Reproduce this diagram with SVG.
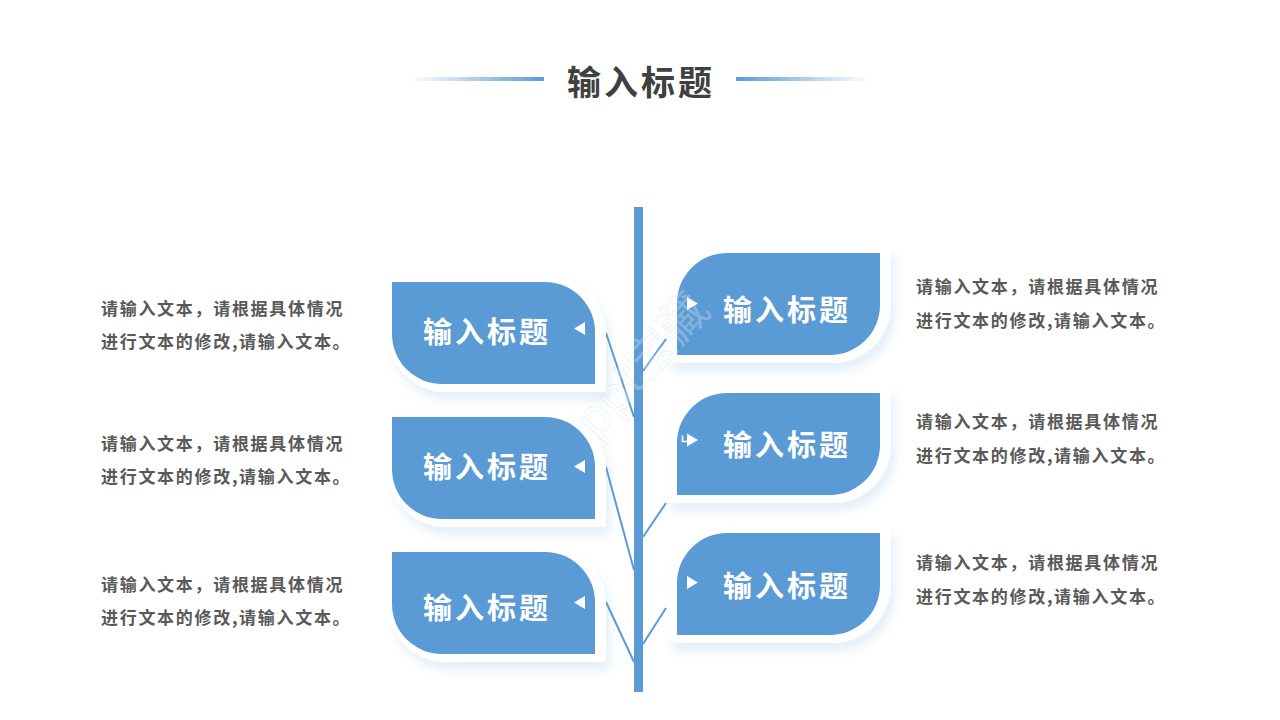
<svg xmlns="http://www.w3.org/2000/svg" width="1280" height="720" viewBox="0 0 1280 720">
<style>
text{font-family:"Noto Sans CJK SC","Liberation Sans",sans-serif;font-weight:700}
.title{font-size:34px;fill:#404040;letter-spacing:3px}
.label{font-size:29px;fill:#fff;letter-spacing:3px}
.body{font-size:17px;fill:#595959;letter-spacing:1.7px}
.card{fill:#5b9bd5}
.halo{fill:#fff;filter:url(#sh)}
.tri{fill:#fff}
.cn{stroke:#5b9bd5;stroke-width:2;fill:none}
.wm{font-size:48px;font-weight:400;fill:#fff;fill-opacity:.25;stroke:#5a7fa8;stroke-opacity:.14;stroke-width:.8}
</style>
<defs>
<linearGradient id="gl" x1="0" x2="1" y1="0" y2="0"><stop offset="0" stop-color="#5b9bd5" stop-opacity="0"/><stop offset="1" stop-color="#5b9bd5"/></linearGradient>
<linearGradient id="gr" x1="0" x2="1" y1="0" y2="0"><stop offset="0" stop-color="#5b9bd5"/><stop offset="1" stop-color="#5b9bd5" stop-opacity="0"/></linearGradient>
<filter id="sh" x="-20%" y="-20%" width="140%" height="150%"><feDropShadow dx="4" dy="8" stdDeviation="5" flood-color="#5b9bd5" flood-opacity="0.16"/></filter>
<path id="lc" d="M0 0H153A50 50 0 0 1 203 50V102H50A50 50 0 0 1 0 52Z"/>
<path id="lh" d="M-4 -6H153A58 58 0 0 1 214 50V110H50A58 58 0 0 1 -4 52Z"/>
<path id="rc" d="M50 0H203V52A50 50 0 0 1 153 102H0V50A50 50 0 0 1 50 0Z"/>
<path id="rh" d="M50 -6H214V52A58 58 0 0 1 153 110H-9V50A50 50 0 0 1 50 -6Z"/>
</defs>
<rect width="1280" height="720" fill="#fff"/>
<g id="title">
<rect x="410" y="77" width="134" height="4" fill="url(#gl)"/>
<rect x="736" y="77" width="134" height="4" fill="url(#gr)"/>
<text class="title" x="567" y="95">输入标题</text>
</g>
<g id="connectors">
<rect x="634" y="207" width="9" height="485" fill="#5b9bd5"/>
<path class="cn" d="M606 333L634 417M666 339L643 371M606 467L634 570M666 503L643 537M606 602L634 662M666 608L643 644"/>
</g>
<g id="node-l1" transform="translate(392 282)"><use href="#lh" class="halo"/><use href="#lc" class="card"/><path class="tri" d="M182 46.500L193 40V53Z"/><text class="label" x="31" y="61">输入标题</text></g>
<g id="node-l2" transform="translate(392 417)"><use href="#lh" class="halo"/><use href="#lc" class="card"/><path class="tri" d="M182 49.500L193 43V56Z"/><text class="label" x="31" y="61">输入标题</text></g>
<g id="node-l3" transform="translate(392 552)"><use href="#lh" class="halo"/><use href="#lc" class="card"/><path class="tri" d="M182 50.500L193 44V57Z"/><text class="label" x="31" y="67">输入标题</text></g>
<g id="node-r1" transform="translate(677 253)"><use href="#rh" class="halo"/><use href="#rc" class="card"/><path class="tri" d="M21 50.500L10 44V57Z"/><text class="label" x="46" y="68">输入标题</text></g>
<g id="node-r2" transform="translate(677 393)"><use href="#rh" class="halo"/><use href="#rc" class="card"/><path class="tri" d="M21 47L10 40.500V53.500Z"/><path d="M5.500 42.500V48.500H11" fill="none" stroke="#fff" stroke-width="1.500"/><text class="label" x="46" y="63">输入标题</text></g>
<g id="node-r3" transform="translate(677 533)"><use href="#rh" class="halo"/><use href="#rc" class="card"/><path class="tri" d="M21 49.500L10 43V56Z"/><text class="label" x="46" y="64">输入标题</text></g>
<g id="text-l1"><text class="body" x="101" y="315">请输入文本，请根据具体情况</text><text class="body" x="101" y="348">进行文本的修改,请输入文本。</text></g>
<g id="text-l2"><text class="body" x="101" y="450">请输入文本，请根据具体情况</text><text class="body" x="101" y="483">进行文本的修改,请输入文本。</text></g>
<g id="text-l3"><text class="body" x="101" y="591">请输入文本，请根据具体情况</text><text class="body" x="101" y="624">进行文本的修改,请输入文本。</text></g>
<g id="text-r1"><text class="body" x="916" y="293">请输入文本，请根据具体情况</text><text class="body" x="916" y="327">进行文本的修改,请输入文本。</text></g>
<g id="text-r2"><text class="body" x="916" y="428">请输入文本，请根据具体情况</text><text class="body" x="916" y="462">进行文本的修改,请输入文本。</text></g>
<g id="text-r3"><text class="body" x="916" y="569">请输入文本，请根据具体情况</text><text class="body" x="916" y="603">进行文本的修改,请输入文本。</text></g>
<text class="wm" transform="translate(596 440) rotate(-48)">ppt宝藏</text>
</svg>
